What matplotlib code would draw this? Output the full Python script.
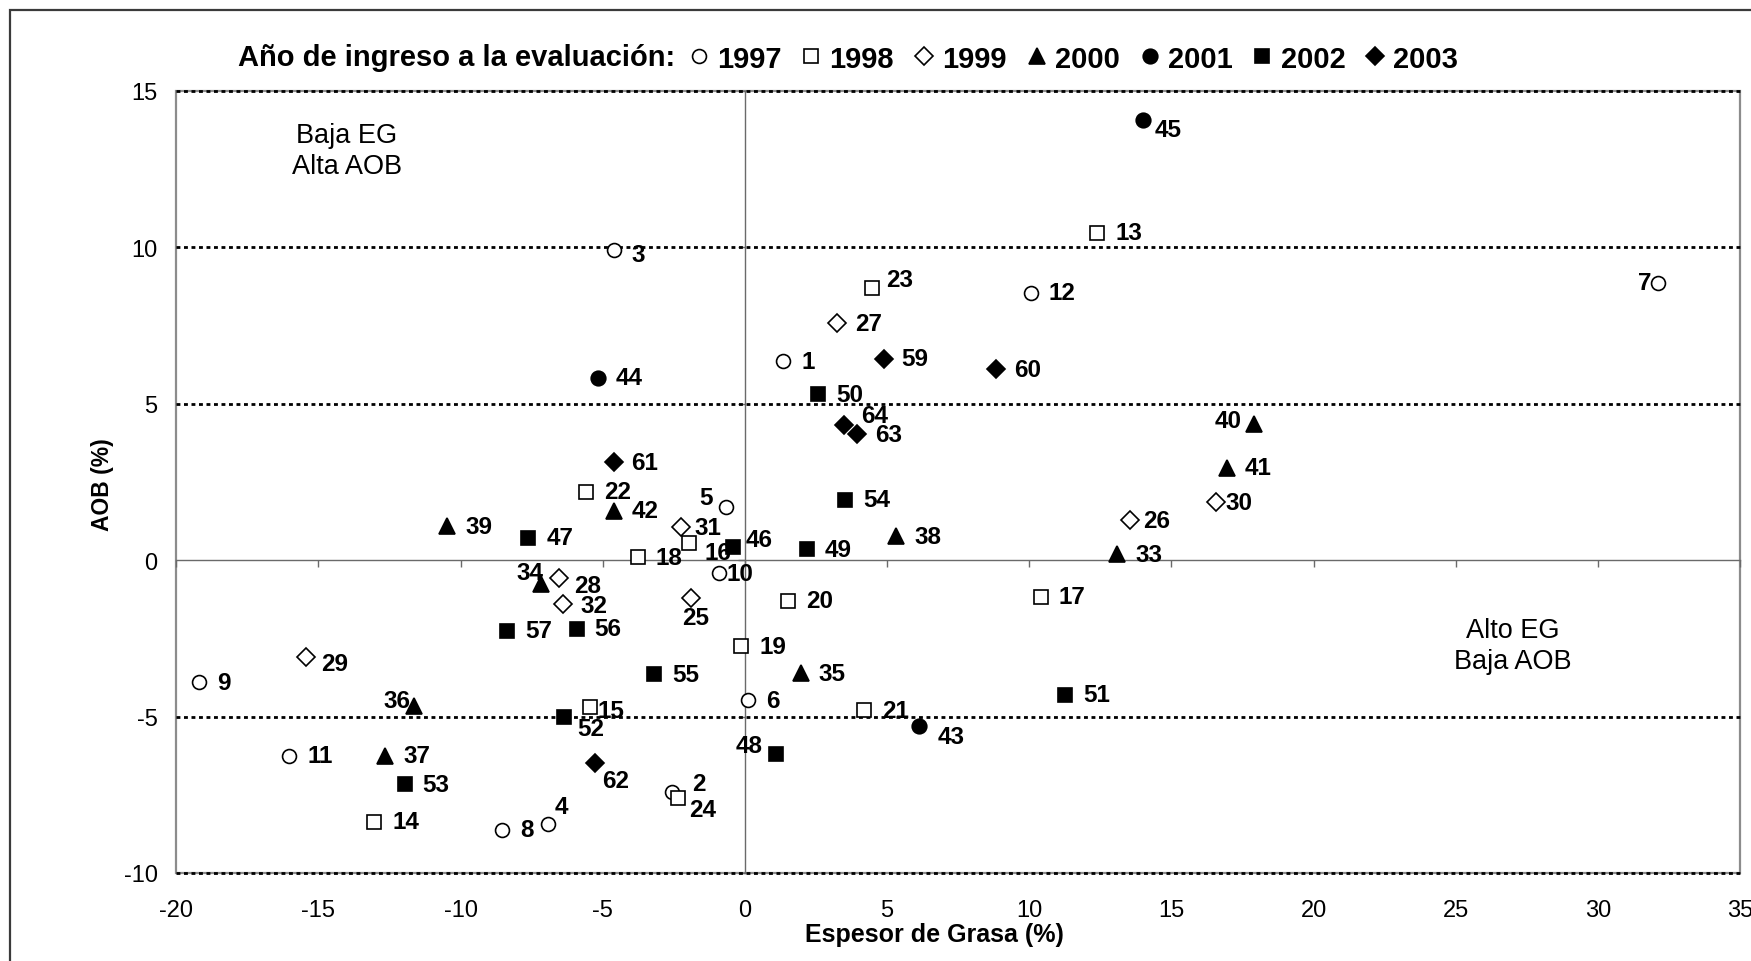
import matplotlib
matplotlib.use("Agg")
import matplotlib.pyplot as plt
from matplotlib.patches import Rectangle

plt.rcParams['font.family'] = ['Liberation Sans', 'DejaVu Sans']

# one group per year of entry: animal id, fat thickness (EG %), AOB %
years = ['1997', '1998', '1999', '2000', '2001', '2002', '2003']

ids_1997 = [1, 2, 3, 4, 5, 6, 7, 8, 9, 10, 11, 12]
eg_1997 = [1.35, -2.58, -4.62, -6.93, -0.68, 0.1, 32.12, -8.55, -19.2, -0.9, -16.03, 10.06]
aob_1997 = [6.35, -7.4, 9.9, -8.42, 1.68, -4.48, 8.86, -8.62, -3.91, -0.4, -6.26, 8.54]

ids_1998 = [13, 14, 15, 16, 17, 18, 19, 20, 21, 22, 23, 24]
eg_1998 = [12.4, -13.03, -5.45, -1.97, 10.41, -3.77, -0.12, 1.52, 4.19, -5.6, 4.48, -2.34]
aob_1998 = [10.46, -8.37, -4.68, 0.54, -1.18, 0.09, -2.76, -1.3, -4.8, 2.19, 8.68, -7.6]

ids_1999 = [25, 26, 27, 28, 29, 30, 31, 32]
eg_1999 = [-1.89, 13.53, 3.24, -6.55, -15.44, 16.57, -2.25, -6.38]
aob_1999 = [-1.2, 1.27, 7.56, -0.56, -3.1, 1.85, 1.04, -1.39]

ids_2000 = [33, 34, 35, 36, 37, 38, 39, 40, 41, 42]
eg_2000 = [13.1, -7.18, 1.96, -11.63, -12.64, 5.33, -10.47, 17.92, 16.95, -4.62]
aob_2000 = [0.18, -0.77, -3.62, -4.67, -6.25, 0.76, 1.08, 4.36, 2.95, 1.57]

ids_2001 = [43, 44, 45]
eg_2001 = [6.12, -5.17, 14.0]
aob_2001 = [-5.31, 5.83, 14.06]

ids_2002 = [46, 47, 48, 49, 50, 51, 52, 53, 54, 55, 56, 57]
eg_2002 = [-0.43, -7.62, 1.1, 2.17, 2.58, 11.27, -6.37, -11.97, 3.53, -3.2, -5.92, -8.36]
aob_2002 = [0.42, 0.72, -6.2, 0.35, 5.3, -4.31, -5.01, -7.16, 1.93, -3.65, -2.2, -2.26]

ids_2003 = [59, 60, 61, 62, 63, 64]
eg_2003 = [4.88, 8.83, -4.62, -5.27, 3.96, 3.47]
aob_2003 = [6.43, 6.1, 3.12, -6.48, 4.04, 4.31]

x_ticks = [-20, -15, -10, -5, 0, 5, 10, 15, 20, 25, 30, 35]
y_ticks = [-10, -5, 0, 5, 10, 15]
dotted_levels = [-10, -5, 5, 10, 15]

groups = [
	(ids_1997, eg_1997, aob_1997),
	(ids_1998, eg_1998, aob_1998),
	(ids_1999, eg_1999, aob_1999),
	(ids_2000, eg_2000, aob_2000),
	(ids_2001, eg_2001, aob_2001),
	(ids_2002, eg_2002, aob_2002),
	(ids_2003, eg_2003, aob_2003),
]

# marker, face colour, size
styles = [
	('o', 'white', 10),
	('s', 'white', 10.5),
	('D', 'white', 9.5),
	('^', 'black', 12),
	('o', 'black', 10.5),
	('s', 'black', 10.5),
	('D', 'black', 9.5),
]

# label offsets in points (dx, dy, ha) where the default doesn't fit
label_pos = {
	2: (15, 6, 'left'), 3: (13, -3, 'left'), 4: (5, 12.5, 'left'),
	5: (-9, 7, 'right'), 7: (-5, 0, 'right'), 10: (5.5, -1, 'left'),
	15: (5.5, -3, 'left'), 16: (11, -7, 'left'), 23: (10, 6.5, 'left'),
	24: (7.5, -8.5, 'left'), 25: (3, -14, 'center'), 26: (10, 0, 'left'),
	28: (11, -5.5, 'left'), 29: (11, -5, 'left'), 30: (7, 0, 'left'),
	31: (10, 0, 'left'), 32: (12.5, -1.5, 'left'), 34: (2, 8.5, 'right'),
	36: (-3, 4, 'right'), 40: (-9, 2, 'right'), 43: (13.5, -7.7, 'left'),
	45: (8.3, -6.5, 'left'), 46: (9.6, 5, 'left'), 48: (-10, 6.5, 'right'),
	52: (9.5, -8.6, 'left'), 62: (5, -13, 'left'), 63: (13, -1, 'left'),
	64: (13, 7, 'left'),
}

fig = plt.figure(figsize=(17.51, 9.62), dpi=100)
fig.patch.set_facecolor('white')
ax = fig.add_axes([0.10063, 0.09148, 0.8931, 0.8133])
ax.set_xlim(-20, 35)
ax.set_ylim(-10, 15)

# outer chart border (only top and left survive the crop)
fig.patches.append(Rectangle((0.0059, -0.2), 1.2, 0.989 + 0.2, transform=fig.transFigure,
	fill=False, edgecolor='#3a3a3a', linewidth=1.6))

# plot area frame
ax.add_patch(Rectangle((0, 0), 1, 1, transform=ax.transAxes, fill=False,
	edgecolor='#8c8c8c', linewidth=1.6, zorder=1, clip_on=False))

for lvl in dotted_levels:
	ax.axhline(lvl, color='black', linewidth=2.0, dashes=(1.4, 1.3), zorder=2, clip_on=False)

for side in ['top', 'right']:
	ax.spines[side].set_visible(False)
ax.spines['left'].set_position(('data', 0))
ax.spines['bottom'].set_position(('data', 0))
for side in ['left', 'bottom']:
	ax.spines[side].set_color('#6a6a6a')
	ax.spines[side].set_linewidth(1.0)
ax.set_xticks(x_ticks)
ax.set_yticks(y_ticks)
ax.tick_params(direction='out', length=5, width=1.0, color='#6a6a6a',
	labelbottom=False, labelleft=False)

sx = ax.secondary_xaxis('bottom')
sx.set_xticks(x_ticks)
sx.set_xticklabels([str(v) for v in x_ticks])
sx.tick_params(length=0, pad=19, labelsize=17)
sx.spines['bottom'].set_visible(False)

sy = ax.secondary_yaxis('left')
sy.set_yticks(y_ticks)
sy.set_yticklabels([str(v) for v in y_ticks])
sy.tick_params(length=0, pad=13.3, labelsize=17)
sy.spines['left'].set_visible(False)

handles = []
for (ids, xs, ys), (mk, fc, ms), yr in zip(groups, styles, years):
	h, = ax.plot(xs, ys, linestyle='none', marker=mk, markersize=ms,
		markerfacecolor=fc, markeredgecolor='black', markeredgewidth=1.2,
		zorder=4, clip_on=False, label=yr)
	handles.append(h)
	for pid, xv, yv in zip(ids, xs, ys):
		dx, dy, ha = label_pos.get(pid, (13, 0, 'left'))
		ax.annotate(str(pid), (xv, yv), xytext=(dx, dy), textcoords='offset points',
			ha=ha, va='center', fontsize=17.5, fontweight='bold', zorder=5)

ax.text(-14, 13.1, "Baja EG\nAlta AOB", ha='center', va='center', fontsize=19.5,
	linespacing=1.25)
ax.text(27.0, -2.73, "Alto EG\nBaja AOB", ha='center', va='center', fontsize=19.5,
	linespacing=1.25)

fig.text(102 / 1751, 1 - 485 / 962, "AOB (%)", rotation=90, ha='center', va='center',
	fontsize=16.5, fontweight='bold')
fig.text(934 / 1751, 1 - 935 / 962, "Espesor de Grasa (%)", ha='center', va='center',
	fontsize=18, fontweight='bold')

fig.text(238 / 1751, 1 - 58 / 962, "Año de ingreso a la evaluación:", ha='left', va='center',
	fontsize=21, fontweight='bold')
fig.legend(handles=handles, labels=years, ncol=7, loc='center left',
	bbox_to_anchor=(687 / 1751, 1 - 59.7 / 962), frameon=False, numpoints=1,
	prop={'weight': 'bold', 'size': 21}, handlelength=0.8, handletextpad=0.22,
	columnspacing=0.63, borderpad=0, borderaxespad=0)

fig.savefig('out.png', dpi=100, facecolor='white')
